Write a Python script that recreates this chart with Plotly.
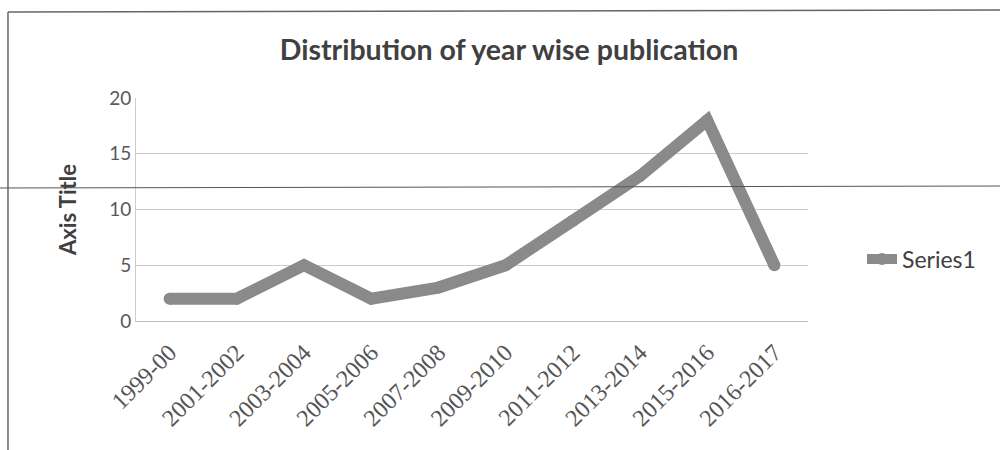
import plotly.graph_objects as go

categories = ["1999-00", "2001-2002", "2003-2004", "2005-2006", "2007-2008",
              "2009-2010", "2011-2012", "2013-2014", "2015-2016", "2016-2017"]
series1 = [2, 2, 5, 2, 3, 5, 9, 13, 18, 5]
y_ticks = [0, 5, 10, 15, 20]

LINE_COLOR = "#8a8a8a"

fig = go.Figure()
fig.add_trace(go.Scatter(
    x=categories, y=series1, mode="lines+markers", name="Series1",
    line=dict(color=LINE_COLOR, width=12),
    marker=dict(color=LINE_COLOR, size=12, symbol="circle"),
))

fig.update_layout(
    width=1000, height=450,
    margin=dict(l=136, r=192, t=98, b=129),
    paper_bgcolor="white", plot_bgcolor="white",
    title=dict(text="<b>Distribution of year wise publication</b>",
               x=(509 - 136) / 672, xref="paper", xanchor="center",
               y=(450 - 50) / 450, yanchor="middle",
               font=dict(family="Lato, Open Sans, sans-serif", size=28.5, color="#404040")),
    xaxis=dict(type="category", range=[-0.5, len(categories) - 0.5], tickangle=-45,
               showgrid=False, showline=True, linecolor="#bfbfbf", linewidth=1,
               ticks="", ticklabelstandoff=7,
               tickfont=dict(family="Liberation Serif, serif", size=24, color="#555555")),
    yaxis=dict(range=[0, 20], tickvals=y_ticks, showgrid=True, gridcolor="#cccccc",
               gridwidth=1, zeroline=False, showline=True, linecolor="#cccccc",
               ticks="", tickfont=dict(family="Lato, Open Sans, sans-serif", size=19, color="#595959"),
               title=dict(text="<b>Axis Title</b>", standoff=26,
                          font=dict(family="Lato, Open Sans, sans-serif", size=22, color="#404040"))),
    showlegend=True,
    legend=dict(x=(862 - 136) / 672, y=(321 - 259) / 223, xanchor="left", yanchor="middle",
                xref="paper", yref="paper", bgcolor="rgba(0,0,0,0)",
                font=dict(family="Lato, Open Sans, sans-serif", size=23, color="#404040")),
    shapes=[
        dict(type="line", xref="paper", yref="paper", x0=-0.1905, x1=-0.1905,
             y0=-0.7, y1=(321 - 12) / 223, line=dict(color="#666666", width=1.5)),
        dict(type="line", xref="paper", yref="paper", x0=-0.1905, x1=1.3,
             y0=(321 - 12) / 223, y1=(321 - 10) / 223, line=dict(color="#666666", width=1.5)),
        dict(type="line", xref="paper", yref="paper", x0=-0.21, x1=1.3,
             y0=(321 - 188) / 223, y1=(321 - 186) / 223, line=dict(color="#555555", width=1)),
    ],
)

fig.write_html("out.html")
